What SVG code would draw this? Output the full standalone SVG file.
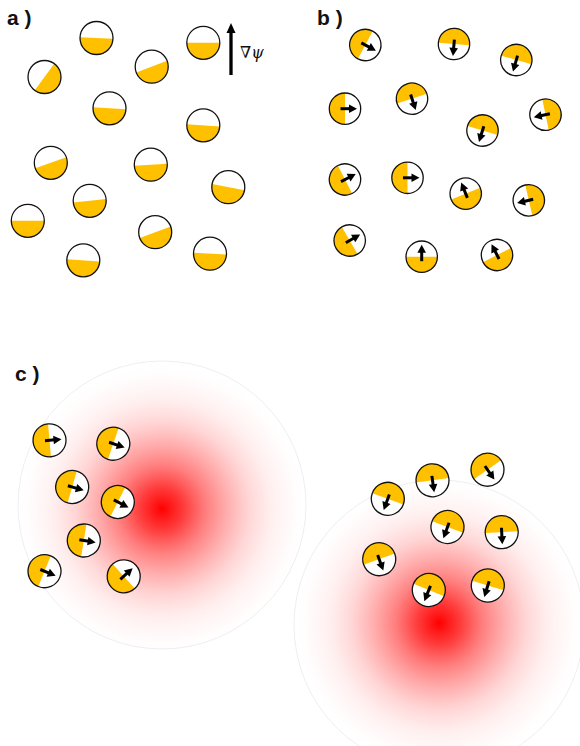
<svg xmlns="http://www.w3.org/2000/svg" xmlns:xlink="http://www.w3.org/1999/xlink" width="580" height="746" viewBox="0 0 580 746">
<style>
.lbl{font-family:"Liberation Sans",Arial,sans-serif;font-weight:bold;font-size:21px;fill:#111}
.w{fill:#fff;stroke:none}
.o{fill:none;stroke:#111;stroke-width:1.3}
.y{fill:#FFC000}
.edge{fill:none;stroke:#e2e2e2;stroke-width:0.6}
</style>
<defs>
<path id="ya" class="y" d="M0,-16.5 A16.5,16.5 0 0 1 0,16.5 Z"/>
<path id="yc" class="y" d="M0,-16.5 A16.5,16.5 0 0 0 0,16.5 Z"/>
<path id="yb" class="y" d="M0,-15.7 A15.7,15.7 0 0 0 0,15.7 Z"/>
<g id="arr"><line x1="-4.5" y1="0" x2="5" y2="0" stroke="#000" stroke-width="3"/><polygon points="4,-4.3 12,0 4,4.3" fill="#000"/></g>
<radialGradient id="glowL" gradientUnits="userSpaceOnUse" cx="162" cy="509" r="146" fx="162" fy="509">
<stop offset="0" stop-color="#ff0000" stop-opacity="1"/>
<stop offset="0.15" stop-color="#ff1a1a" stop-opacity="0.85"/>
<stop offset="0.3" stop-color="#ff3030" stop-opacity="0.62"/>
<stop offset="0.45" stop-color="#ff4040" stop-opacity="0.42"/>
<stop offset="0.6" stop-color="#ff5050" stop-opacity="0.23"/>
<stop offset="0.75" stop-color="#ff6060" stop-opacity="0.1"/>
<stop offset="0.9" stop-color="#ff8080" stop-opacity="0.03"/>
<stop offset="1" stop-color="#ffffff" stop-opacity="0"/>
</radialGradient>
<radialGradient id="glowR" gradientUnits="userSpaceOnUse" cx="439" cy="623" r="146" fx="439" fy="623">
<stop offset="0" stop-color="#ff0000" stop-opacity="1"/>
<stop offset="0.15" stop-color="#ff1a1a" stop-opacity="0.85"/>
<stop offset="0.3" stop-color="#ff3030" stop-opacity="0.62"/>
<stop offset="0.45" stop-color="#ff4040" stop-opacity="0.42"/>
<stop offset="0.6" stop-color="#ff5050" stop-opacity="0.23"/>
<stop offset="0.75" stop-color="#ff6060" stop-opacity="0.1"/>
<stop offset="0.9" stop-color="#ff8080" stop-opacity="0.03"/>
<stop offset="1" stop-color="#ffffff" stop-opacity="0"/>
</radialGradient>
</defs>
<rect width="580" height="746" fill="#fff"/>

<g id="glows">
<circle cx="162" cy="505" r="144" fill="url(#glowL)"/>
<circle cx="162" cy="505" r="144" class="edge"/>
<circle cx="439" cy="625" r="145" fill="url(#glowR)"/>
<circle cx="439" cy="625" r="145" class="edge"/>
</g>

<g id="labels">
<text class="lbl" x="7" y="25">a )</text>
<text class="lbl" x="317" y="25">b )</text>
<text class="lbl" x="15" y="381">c )</text>
</g>

<g id="gradpsi">
<line x1="231" y1="75" x2="231" y2="31" stroke="#000" stroke-width="3.3"/>
<polygon points="231,23 226.5,33 235.5,33" fill="#000"/>
<text x="240" y="58" font-family="DejaVu Serif,serif" font-size="16" fill="#111">∇<tspan font-style="italic">ψ</tspan></text>
</g>

<g id="panel-a">
<g id="a1" transform="translate(96.5,38)"><circle r="16.5" class="w"/><use href="#ya" transform="rotate(93)"/><circle r="16.5" class="o"/></g>
<g id="a2" transform="translate(44.5,77)"><circle r="16.5" class="w"/><use href="#ya" transform="rotate(36)"/><circle r="16.5" class="o"/></g>
<g id="a3" transform="translate(151.7,66.7)"><circle r="16.5" class="w"/><use href="#ya" transform="rotate(69)"/><circle r="16.5" class="o"/></g>
<g id="a4" transform="translate(203.3,42.8)"><circle r="16.5" class="w"/><use href="#ya" transform="rotate(90)"/><circle r="16.5" class="o"/></g>
<g id="a5" transform="translate(109.5,108.3)"><circle r="16.5" class="w"/><use href="#ya" transform="rotate(93.5)"/><circle r="16.5" class="o"/></g>
<g id="a6" transform="translate(203.3,125.3)"><circle r="16.5" class="w"/><use href="#ya" transform="rotate(94)"/><circle r="16.5" class="o"/></g>
<g id="a7" transform="translate(50.8,162.8)"><circle r="16.5" class="w"/><use href="#ya" transform="rotate(70.5)"/><circle r="16.5" class="o"/></g>
<g id="a8" transform="translate(89.7,200.8)"><circle r="16.5" class="w"/><use href="#ya" transform="rotate(84)"/><circle r="16.5" class="o"/></g>
<g id="a9" transform="translate(27.8,220.8)"><circle r="16.5" class="w"/><use href="#ya" transform="rotate(90)"/><circle r="16.5" class="o"/></g>
<g id="a10" transform="translate(83.3,260.3)"><circle r="16.5" class="w"/><use href="#ya" transform="rotate(94)"/><circle r="16.5" class="o"/></g>
<g id="a11" transform="translate(150.8,164.7)"><circle r="16.5" class="w"/><use href="#ya" transform="rotate(86.6)"/><circle r="16.5" class="o"/></g>
<g id="a12" transform="translate(228.3,187.2)"><circle r="16.5" class="w"/><use href="#ya" transform="rotate(101)"/><circle r="16.5" class="o"/></g>
<g id="a13" transform="translate(155.2,232.2)"><circle r="16.5" class="w"/><use href="#ya" transform="rotate(69.5)"/><circle r="16.5" class="o"/></g>
<g id="a14" transform="translate(210,253.7)"><circle r="16.5" class="w"/><use href="#ya" transform="rotate(93)"/><circle r="16.5" class="o"/></g>
</g>

<g id="panel-b">
<g id="b1" transform="translate(365.3,45) rotate(28)"><circle r="15.7" class="w"/><use href="#yb"/><use href="#arr"/><circle r="15.7" class="o"/></g>
<g id="b2" transform="translate(454,44) rotate(95)"><circle r="15.7" class="w"/><use href="#yb"/><use href="#arr"/><circle r="15.7" class="o"/></g>
<g id="b3" transform="translate(516.3,60) rotate(106)"><circle r="15.7" class="w"/><use href="#yb"/><use href="#arr"/><circle r="15.7" class="o"/></g>
<g id="b4" transform="translate(412,98.7) rotate(72)"><circle r="15.7" class="w"/><use href="#yb"/><use href="#arr"/><circle r="15.7" class="o"/></g>
<g id="b5" transform="translate(345,108.7) rotate(0)"><circle r="15.7" class="w"/><use href="#yb"/><use href="#arr"/><circle r="15.7" class="o"/></g>
<g id="b6" transform="translate(482.5,130.5) rotate(107)"><circle r="15.7" class="w"/><use href="#yb"/><use href="#arr"/><circle r="15.7" class="o"/></g>
<g id="b7" transform="translate(545.5,114.7) rotate(168)"><circle r="15.7" class="w"/><use href="#yb"/><use href="#arr"/><circle r="15.7" class="o"/></g>
<g id="b8" transform="translate(345,179.5) rotate(-27)"><circle r="15.7" class="w"/><use href="#yb"/><use href="#arr"/><circle r="15.7" class="o"/></g>
<g id="b9" transform="translate(407.5,177.8) rotate(0)"><circle r="15.7" class="w"/><use href="#yb"/><use href="#arr"/><circle r="15.7" class="o"/></g>
<g id="b10" transform="translate(465.7,193.7) rotate(-112)"><circle r="15.7" class="w"/><use href="#yb"/><use href="#arr"/><circle r="15.7" class="o"/></g>
<g id="b11" transform="translate(528.8,200.3) rotate(167)"><circle r="15.7" class="w"/><use href="#yb"/><use href="#arr"/><circle r="15.7" class="o"/></g>
<g id="b12" transform="translate(349.7,240.5) rotate(-30)"><circle r="15.7" class="w"/><use href="#yb"/><use href="#arr"/><circle r="15.7" class="o"/></g>
<g id="b13" transform="translate(421.7,256.7) rotate(-90)"><circle r="15.7" class="w"/><use href="#yb"/><use href="#arr"/><circle r="15.7" class="o"/></g>
<g id="b14" transform="translate(497,255) rotate(-117)"><circle r="15.7" class="w"/><use href="#yb"/><use href="#arr"/><circle r="15.7" class="o"/></g>
</g>

<g id="panel-c">
<g id="c1" transform="translate(49.5,440.3) rotate(-5)"><circle r="16.5" class="w"/><use href="#yc"/><use href="#arr"/><circle r="16.5" class="o"/></g>
<g id="c2" transform="translate(113.3,443.7) rotate(19)"><circle r="16.5" class="w"/><use href="#yc"/><use href="#arr"/><circle r="16.5" class="o"/></g>
<g id="c3" transform="translate(72.2,487) rotate(16)"><circle r="16.5" class="w"/><use href="#yc"/><use href="#arr"/><circle r="16.5" class="o"/></g>
<g id="c4" transform="translate(117.8,502) rotate(27)"><circle r="16.5" class="w"/><use href="#yc"/><use href="#arr"/><circle r="16.5" class="o"/></g>
<g id="c5" transform="translate(83.8,540.5) rotate(9)"><circle r="16.5" class="w"/><use href="#yc"/><use href="#arr"/><circle r="16.5" class="o"/></g>
<g id="c6" transform="translate(44.5,571.2) rotate(22)"><circle r="16.5" class="w"/><use href="#yc"/><use href="#arr"/><circle r="16.5" class="o"/></g>
<g id="c7" transform="translate(123.7,576.3) rotate(-42)"><circle r="16.5" class="w"/><use href="#yc"/><use href="#arr"/><circle r="16.5" class="o"/></g>
<g id="c8" transform="translate(387.8,498.8) rotate(110)"><circle r="16.5" class="w"/><use href="#yc"/><use href="#arr"/><circle r="16.5" class="o"/></g>
<g id="c9" transform="translate(432.5,480.3) rotate(82)"><circle r="16.5" class="w"/><use href="#yc"/><use href="#arr"/><circle r="16.5" class="o"/></g>
<g id="c10" transform="translate(487.5,469.7) rotate(55)"><circle r="16.5" class="w"/><use href="#yc"/><use href="#arr"/><circle r="16.5" class="o"/></g>
<g id="c11" transform="translate(447.5,527) rotate(110)"><circle r="16.5" class="w"/><use href="#yc"/><use href="#arr"/><circle r="16.5" class="o"/></g>
<g id="c12" transform="translate(501.7,532.2) rotate(87)"><circle r="16.5" class="w"/><use href="#yc"/><use href="#arr"/><circle r="16.5" class="o"/></g>
<g id="c13" transform="translate(379.2,559.2) rotate(70)"><circle r="16.5" class="w"/><use href="#yc"/><use href="#arr"/><circle r="16.5" class="o"/></g>
<g id="c14" transform="translate(428.8,590) rotate(112)"><circle r="16.5" class="w"/><use href="#yc"/><use href="#arr"/><circle r="16.5" class="o"/></g>
<g id="c15" transform="translate(487.8,585.5) rotate(107)"><circle r="16.5" class="w"/><use href="#yc"/><use href="#arr"/><circle r="16.5" class="o"/></g>
</g>
</svg>
